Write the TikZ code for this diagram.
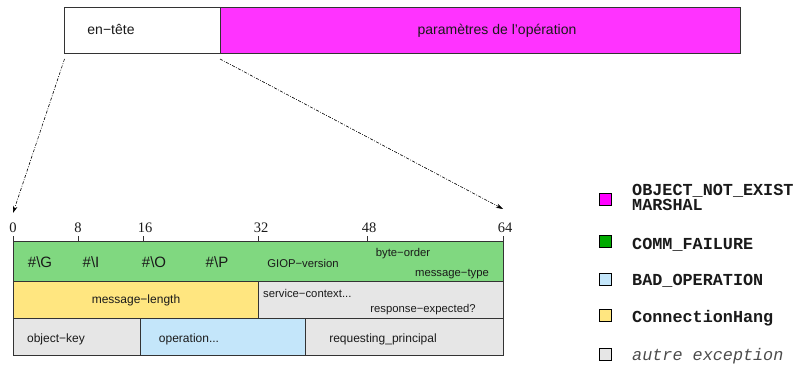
\documentclass[tikz,border=0pt]{standalone}
\usepackage{fontspec}
\setmainfont{Liberation Sans}
\newfontfamily\numfont{Liberation Serif}
\newfontfamily\legfont{Liberation Mono}
\usetikzlibrary{arrows.meta}
\definecolor{magbox}{HTML}{FF33FF}
\definecolor{grnbox}{HTML}{80D880}
\definecolor{yelbox}{HTML}{FFE680}
\definecolor{blubox}{HTML}{C4E6FA}
\definecolor{grybox}{HTML}{E6E6E6}
\definecolor{legmag}{HTML}{FF00FF}
\definecolor{leggrn}{HTML}{00AA00}
\definecolor{txtcol}{HTML}{1A1A1A}
\definecolor{bordcol}{HTML}{333333}
\begin{document}
\begin{tikzpicture}[x=1pt,y=-1pt,
  cell/.style={draw=bordcol, line width=0.9pt, inner sep=0pt, outer sep=0pt, anchor=north west},
  toplbl/.style={font=\fontsize{14}{16}\selectfont, text=txtcol, inner sep=0pt, anchor=base},
  biglbl/.style={font=\fontsize{15}{17}\selectfont, text=txtcol, inner sep=0pt, anchor=base},
  lbl/.style={font=\fontsize{12}{14}\selectfont, text=txtcol, inner sep=0pt, anchor=base},
  smlbl/.style={font=\fontsize{11.3}{13}\selectfont, text=txtcol, inner sep=0pt, anchor=base},
  numlbl/.style={font=\numfont\fontsize{14.5}{16}\selectfont, text=txtcol, inner sep=0pt, anchor=base},
  leglbl/.style={font=\legfont\bfseries\fontsize{16.8}{15.5}\selectfont, text=txtcol, inner sep=0pt, anchor=base west},
  legsq/.style={draw=black, line width=0.8pt, minimum width=12pt, minimum height=12pt, inner sep=0pt},
  zoomline/.style={line width=0.6pt, dash pattern=on 3pt off 1.5pt on 0.8pt off 1.5pt, -{Stealth[length=7pt,width=4.5pt]}},
  tick/.style={line width=0.8pt, draw=bordcol}
]
\useasboundingbox (0,0) rectangle (795,369);

% top message
\node[cell, fill=white, minimum width=156pt, minimum height=46pt] (hdr) at (64,7) {};
\node[cell, fill=magbox, minimum width=520pt, minimum height=46pt] (par) at (220,7) {};
\draw[bordcol, line width=0.8pt, dotted] (hdr.north east) -- (hdr.south east);
\node[toplbl] (hdrtxt) at (111,35) {en−tête};
\node[toplbl] (partxt) at (497,35) {paramètres de l’opération};

% zoom connectors
\coordinate (s0) at (64.5,59);
\coordinate (s1) at (220,59);
\coordinate (t0) at (13,213);
\coordinate (t1) at (503,209);
\draw[zoomline] (s0) -- (t0);
\draw[zoomline] (s1) -- (t1);

% ruler
\coordinate (r0) at (13,241);
\coordinate (r64) at (503,241);
\draw[tick] (r0) -- (r64);
\foreach \xx/\nn/\cx in {13/0/13, 78/8/78, 143/16/145, 258/32/261, 367/48/369, 503/64/505}{
  \draw[tick] (\xx,236) -- (\xx,241);
  \node[numlbl] (n\nn) at (\cx,232) {\nn};
}

% row 1
\node[cell, fill=grnbox, minimum width=490pt, minimum height=40pt] (row1) at (13,241) {};
\node[biglbl] (g1) at (40,267) {\#\textbackslash G};
\node[biglbl] (g2) at (91,267) {\#\textbackslash I};
\node[biglbl] (g3) at (154,267) {\#\textbackslash O};
\node[biglbl] (g4) at (217,267) {\#\textbackslash P};
\node[smlbl] (giop) at (303,267) {GIOP−version};
\node[smlbl] (bo) at (403,256) {byte−order};
\node[smlbl] (mt) at (452,276) {message−type};

% row 2
\node[cell, fill=yelbox, minimum width=245pt, minimum height=37pt] (row2a) at (13,281) {};
\node[cell, fill=grybox, minimum width=245pt, minimum height=37pt] (row2b) at (258,281) {};
\node[lbl] (ml) at (136,303) {message−length};
\node[smlbl, anchor=base west] (sc) at (263,297) {service−context...};
\node[smlbl] (re) at (423,312) {response−expected?};

% row 3
\node[cell, fill=grybox, minimum width=127pt, minimum height=37pt] (row3a) at (13,318) {};
\node[cell, fill=blubox, minimum width=165pt, minimum height=37pt] (row3b) at (140,318) {};
\node[cell, fill=grybox, minimum width=198pt, minimum height=37pt] (row3c) at (305,318) {};
\node[lbl] (ok) at (56,342) {object−key};
\node[lbl] (op) at (189,342) {operation...};
\node[lbl] (rp) at (383,342) {requesting\_principal};

% legend
\node[legsq, fill=legmag] (lq1) at (605,199) {};
\node[legsq, fill=leggrn] (lq2) at (605,241) {};
\node[legsq, fill=blubox] (lq3) at (605,279) {};
\node[legsq, fill=yelbox] (lq4) at (605,315) {};
\node[legsq, fill=grybox] (lq5) at (605,354) {};
\node[leglbl, align=left] (lt1) at (632,210.5) {OBJECT\_NOT\_EXIST\\MARSHAL};
\node[leglbl] (lt2) at (632,249) {COMM\_FAILURE};
\node[leglbl] (lt3) at (632,285) {BAD\_OPERATION};
\node[leglbl] (lt4) at (632,322) {ConnectionHang};
\node[leglbl, font=\legfont\itshape\fontsize{16.8}{18}\selectfont, text=black!70] (lt5) at (632,360) {autre exception};
\end{tikzpicture}
\end{document}
